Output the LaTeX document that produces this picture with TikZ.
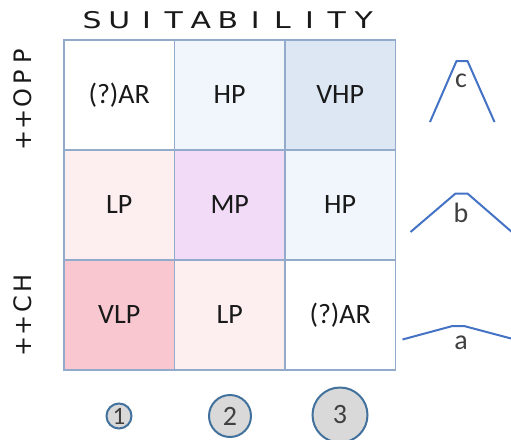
\documentclass[tikz,border=0pt]{standalone}
\usepackage{fontspec}
\usepackage{graphicx}
\setmainfont{Carlito}
\newfontfamily\capsfont{DejaVu Sans}

\definecolor{gridline}{HTML}{93ABCB}
\definecolor{paleblue}{HTML}{F1F6FD}
\definecolor{midblue}{HTML}{DCE7F3}
\definecolor{palepink}{HTML}{FDEEEF}
\definecolor{palemauve}{HTML}{F1DBF6}
\definecolor{rosepink}{HTML}{F8C7D0}
\definecolor{discgray}{HTML}{D9D9D9}
\definecolor{discedge}{HTML}{41719C}
\definecolor{curveblue}{HTML}{4472C4}
\definecolor{labelgray}{HTML}{404040}

% one capital centred in a box of fixed width, for evenly spaced lettering
\newcommand{\lbox}[2]{\makebox[#1][c]{#2}}

\tikzset{
  cell/.style={draw=gridline, line width=1.3pt, minimum width=110.5pt,
    minimum height=110pt, inner sep=0pt, font=\fontsize{28}{28}\selectfont,
    text=black!90},
  disc/.style={circle, draw=discedge, line width=2pt, fill=discgray,
    inner sep=0pt, text=labelgray},
  shapecurve/.style={draw=curveblue, line width=2pt, line join=round},
  shapelabel/.style={font=\fontsize{28}{28}\selectfont, text=labelgray, inner sep=0pt},
  heading/.style={font=\capsfont\fontsize{23}{23}\selectfont, text=black!90, inner sep=0pt},
  sidelabel/.style={font=\capsfont\fontsize{24}{24}\selectfont, text=black!90,
    inner sep=0pt, rotate=90}
}

\begin{document}
\begin{tikzpicture}[x=1pt, y=-1pt]
\clip (0,0) rectangle (511,439);
\useasboundingbox (0,0) rectangle (511,439);

% title across the top
\node[heading] (title) at (228,20) {\scalebox{1.3}[1]{%
  \lbox{20.9pt}{S}\lbox{20.9pt}{U}\lbox{20.9pt}{I}\lbox{20.9pt}{T}%
  \lbox{20.9pt}{A}\lbox{20.9pt}{B}\lbox{20.9pt}{I}\lbox{20.9pt}{L}%
  \lbox{20.9pt}{I}\lbox{20.9pt}{T}\lbox{20.9pt}{Y}}};

% axis labels on the left
\node[sidelabel] (opp) at (23,98) {%
  \lbox{21pt}{+}\lbox{21pt}{+}\lbox{21pt}{O}\lbox{21pt}{P}\lbox{21pt}{P}};
\node[sidelabel] (ch) at (23,315) {%
  \lbox{21pt}{+}\lbox{21pt}{+}\lbox{21pt}{C}\lbox{21pt}{H}};

% the 3x3 grid
\node[cell, fill=white]     (c11) at (119.2,95)  {(?)AR};
\node[cell, fill=paleblue]  (c12) at (229.7,95)  {HP};
\node[cell, fill=midblue]   (c13) at (340.2,95)  {VHP};
\node[cell, fill=palepink]  (c21) at (119.2,205) {LP};
\node[cell, fill=palemauve] (c22) at (229.7,205) {MP};
\node[cell, fill=paleblue]  (c23) at (340.2,205) {HP};
\node[cell, fill=rosepink]  (c31) at (119.2,315) {VLP};
\node[cell, fill=palepink]  (c32) at (229.7,315) {LP};
\node[cell, fill=white]     (c33) at (340.2,315) {(?)AR};

% numbered discs below the columns
\node[disc, minimum size=25pt, font=\fontsize{25}{25}\selectfont] (d1) at (119,416) {1};
\node[disc, minimum size=42pt, font=\fontsize{28}{28}\selectfont] (d2) at (230,416) {2};
\node[disc, minimum size=55pt, font=\fontsize{28}{28}\selectfont] (d3) at (340,415) {3};

% profile shapes on the right
\draw[shapecurve] (430,122) -- (456.5,61) -- (467.5,61) -- (494.5,122);
\node[shapelabel] (lc) at (461,81) {c};
\draw[shapecurve] (410.5,232) -- (455.5,193.5) -- (467.5,193.5) -- (513,233);
\node[shapelabel] (lb) at (461,213) {b};
\draw[shapecurve] (402.5,339.5) -- (452.5,326) -- (464,326) -- (513,339);
\node[shapelabel] (la) at (461,343) {a};
\end{tikzpicture}
\end{document}
